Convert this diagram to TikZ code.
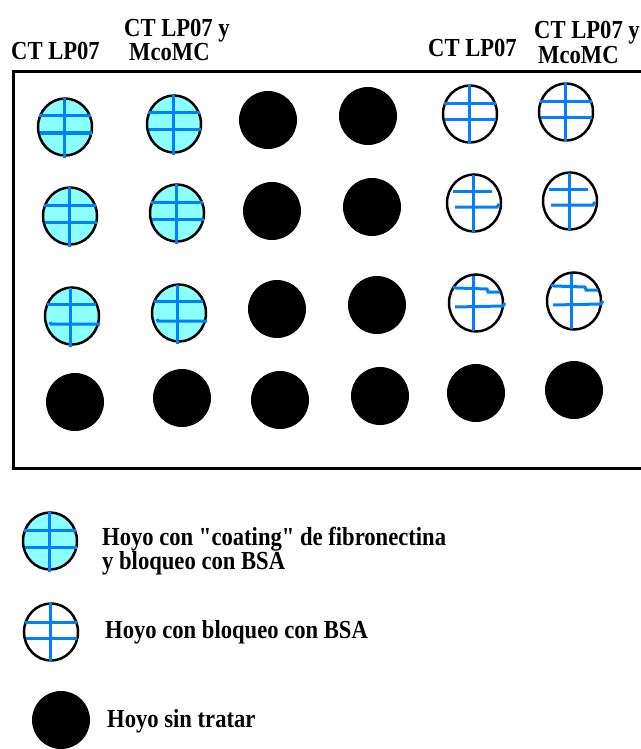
\documentclass[tikz,border=0pt]{standalone}
\usepackage{fontspec}
\setmainfont[FakeStretch=0.87]{Liberation Serif}
\newfontfamily\lblfont[FakeStretch=0.87]{Liberation Serif}
\usetikzlibrary{shapes.geometric}
\definecolor{wellcyan}{RGB}{140,255,255}
\definecolor{gridblue}{RGB}{0,128,255}
\tikzset{
  outl/.style={draw=black, line width=2.5pt},
  gl/.style={draw=gridblue, line width=3pt},
  lbl/.style={font=\lblfont\bfseries\fontsize{26}{24}\selectfont, inner sep=0pt, anchor=base west},
  wellshape/.style={ellipse, inner sep=0pt, minimum width=54pt, minimum height=57pt},
  pics/cyanA/.style={code={
    \node[wellshape, outl, fill=wellcyan] (-o) at (0,0) {};
    \draw[gl] (-1,-29) -- (-1,31);
    \draw[gl] (-26,-11) -- (26,-11);
    \draw[gl] (-25,6) -- (27,6);
  }},
  pics/cyanB/.style={code={
    \node[wellshape, outl, fill=wellcyan] (-o) at (0,0) {};
    \draw[gl] (-2,-28) -- (-2,31);
    \draw[gl] (-25,-12) -- (24,-12);
    \draw[gl] (-22,6) -- (-21,8) -- (28,8);
  }},
  pics/whiteA/.style={code={
    \node[wellshape, outl, fill=white] (-o) at (0,0) {};
    \draw[gl] (-1,-30) -- (-1,30);
    \draw[gl] (-26,-10) -- (26,-10);
    \draw[gl] (-25,6) -- (26,6);
  }},
  pics/whiteB/.style={code={
    \node[wellshape, outl, fill=white] (-o) at (0,0) {};
    \draw[gl] (-1,-28) -- (-1,29);
    \draw[gl] (-21,-12) -- (18,-12);
    \draw[gl] (-19,4) -- (23,4) -- (25,1);
  }},
  pics/whiteC/.style={code={
    \node[wellshape, outl, fill=white] (-o) at (0,0) {};
    \draw[gl] (-3,-27) -- (-3,28);
    \draw[gl] (-23,-16) -- (-20,-15) -- (11,-14) -- (12,-11) -- (24,-11);
    \draw[gl] (-21,4) -- (27,3) -- (29,0);
  }},
  pics/blk/.style={code={
    \node[wellshape, fill=black, minimum width=58pt, minimum height=58pt] (-o) at (0,0) {};
  }},
}
\begin{document}
\begin{tikzpicture}[x=1pt, y=-1pt]
\useasboundingbox[fill=white] (0,0) rectangle (640,749);
% headers
\node[lbl] (h1) at (11,60) {CT LP07};
\node[lbl] (h2) at (124,37) {CT LP07 y};
\node[lbl] (h3) at (129,61) {McoMC};
\node[lbl] (h4) at (428,57) {CT LP07};
\node[lbl] (h5) at (534,39) {CT LP07 y};
\node[lbl] (h6) at (538,64) {McoMC};
% plate
\coordinate (pa) at (641,72);
\coordinate (pb) at (13,72);
\coordinate (pc) at (13,468);
\coordinate (pd) at (641,468);
\draw[line width=3pt] (pa) -- (pb) -- (pc) -- (pd);
% row 1
\pic (w11) at (65,127) {cyanA};
\pic (w12) at (174,124) {cyanA};
\pic (w13) at (268,120) {blk};
\pic (w14) at (368,116) {blk};
\pic (w15) at (470,114) {whiteA};
\pic (w16) at (566,112) {whiteA};
% row 2
\pic (w21) at (70,216) {cyanA};
\pic (w22) at (177,213) {cyanA};
\pic (w23) at (272,211) {blk};
\pic (w24) at (372,207) {blk};
\pic (w25) at (474,203) {whiteB};
\pic (w26) at (570,201) {whiteB};
% row 3
\pic (w31) at (72,316) {cyanB};
\pic (w32) at (179,313) {cyanB};
\pic (w33) at (277,309) {blk};
\pic (w34) at (377,305) {blk};
\pic (w35) at (476,303) {whiteC};
\pic (w36) at (574,301) {whiteC};
% row 4
\pic (w41) at (75,402) {blk};
\pic (w42) at (182,398) {blk};
\pic (w43) at (280,400) {blk};
\pic (w44) at (380,396) {blk};
\pic (w45) at (476,393) {blk};
\pic (w46) at (574,390) {blk};
% legend
\pic (k1) at (50,541) {cyanA};
\node[lbl, align=left] (t1) at (102,569) {Hoyo con "coating" de fibronectina\\y bloqueo con BSA};
\pic (k2) at (51,632) {whiteA};
\node[lbl] (t2) at (105,638) {Hoyo con bloqueo con BSA};
\pic (k3) at (61,720) {blk};
\node[lbl] (t3) at (107,727) {Hoyo sin tratar};
\end{tikzpicture}
\end{document}
